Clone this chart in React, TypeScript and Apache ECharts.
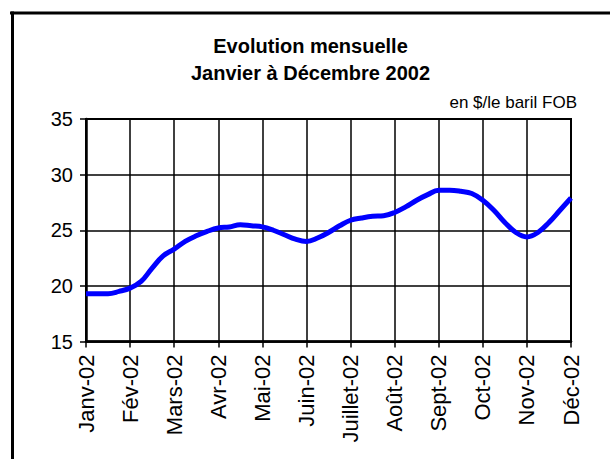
import React, { useEffect, useRef } from "react";
import * as echarts from "echarts";

const months = ["Janv-02", "Fév-02", "Mars-02", "Avr-02", "Mai-02", "Juin-02", "Juillet-02", "Août-02", "Sept-02", "Oct-02", "Nov-02", "Déc-02"];
// weekly readings (4 per month), $/baril FOB
const prices = [
  19.3, 19.3, 19.3, 19.5,
  19.8, 20.4, 21.6, 22.7,
  23.3, 24.0, 24.5, 24.9,
  25.2, 25.3, 25.5, 25.4,
  25.3, 25.0, 24.6, 24.2,
  24.0, 24.3, 24.8, 25.4,
  25.9, 26.1, 26.25, 26.3,
  26.6, 27.1, 27.7, 28.2,
  28.6, 28.6, 28.5, 28.3,
  27.7, 26.8, 25.7, 24.8,
  24.4, 24.8, 25.7, 26.8,
  27.9,
];
const yTicks = [15, 20, 25, 30, 35];
const titleLines = ["Evolution mensuelle", "Janvier à Décembre 2002"];
const unitLabel = "en $/le baril FOB";

const FONT = "'Liberation Sans', Arial, Helvetica, sans-serif";

export default function App() {
  const ref = useRef<HTMLDivElement>(null);
  useEffect(() => {
    if (!ref.current) return;
    const chart = echarts.init(ref.current, null, { renderer: "svg" });
    const cats = prices.map((_, i) => (i % 4 === 0 ? months[i / 4] : ""));
    chart.setOption({
      animation: false,
      backgroundColor: "#ffffff",
      textStyle: { fontFamily: FONT },
      grid: { left: 86, right: 39, top: 119, bottom: 117.5, show: true, borderColor: "#000", borderWidth: 2, backgroundColor: "transparent" },
      xAxis: {
        type: "category",
        data: cats,
        boundaryGap: false,
        axisLine: { lineStyle: { color: "#000", width: 2.5 } },
        axisTick: { show: true, interval: 3, length: 6, inside: false, lineStyle: { color: "#000", width: 1.5 } },
        axisLabel: { interval: 3, rotate: 90, margin: 13, color: "#000", fontSize: 22, fontFamily: FONT },
        splitLine: { show: true, interval: 3, lineStyle: { color: "#000", width: 1.5 } },
      },
      yAxis: {
        type: "value",
        min: yTicks[0],
        max: yTicks[yTicks.length - 1],
        interval: 5,
        axisLine: { show: true, lineStyle: { color: "#000", width: 2.5 } },
        axisTick: { show: true, length: 6, lineStyle: { color: "#000", width: 1.5 } },
        axisLabel: { margin: 13, color: "#000", fontSize: 20, fontFamily: FONT },
        splitLine: { show: true, lineStyle: { color: "#000", width: 1.5 } },
      },
      series: [
        {
          type: "line",
          data: prices,
          smooth: 0.4,
          showSymbol: false,
          symbol: "none",
          lineStyle: { color: "#0000ff", width: 5 },
          z: 5,
        },
      ],
      graphic: [
        { type: "line", shape: { x1: 10, y1: 13, x2: 610, y2: 13 }, style: { stroke: "#000", lineWidth: 3 } },
        { type: "line", shape: { x1: 12.5, y1: 11.5, x2: 12.5, y2: 459 }, style: { stroke: "#000", lineWidth: 3 } },
        { type: "text", x: 310.5, y: 46, style: { text: titleLines[0], font: `bold 20px ${FONT}`, fill: "#000", textAlign: "center", textVerticalAlign: "middle" } },
        { type: "text", x: 310.5, y: 72.5, style: { text: titleLines[1], font: `bold 20px ${FONT}`, fill: "#000", textAlign: "center", textVerticalAlign: "middle" } },
        { type: "text", x: 577, y: 102, style: { text: unitLabel, font: `17px ${FONT}`, fill: "#000", textAlign: "right", textVerticalAlign: "middle" } },
      ],
    });
    return () => chart.dispose();
  }, []);
  return <div ref={ref} style={{ width: 610, height: 459, position: "absolute", left: 0, top: 0 }} />;
}
